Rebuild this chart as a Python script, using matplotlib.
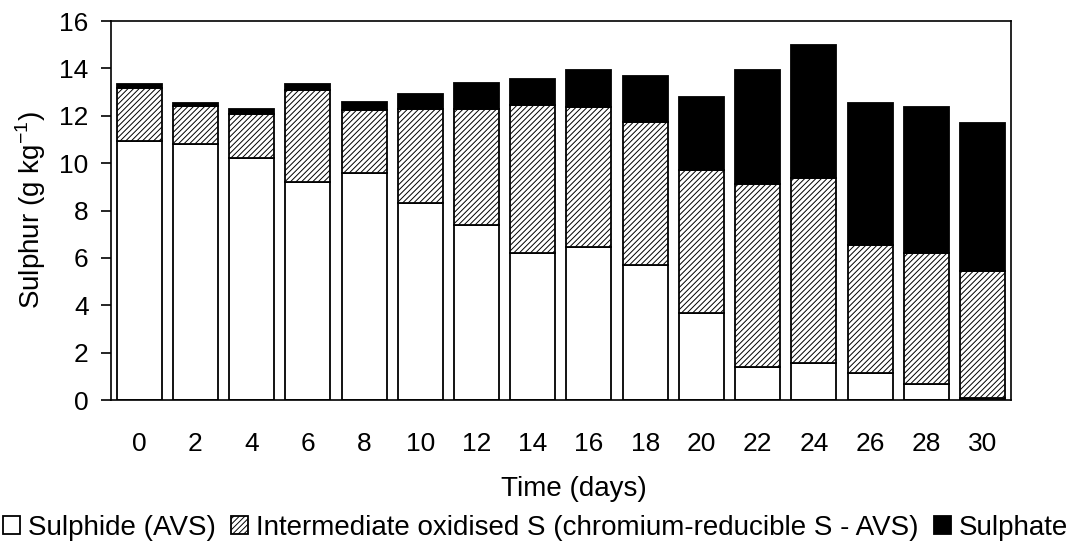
import numpy as np
import matplotlib.pyplot as plt

# Sulphur fractions over time (g kg-1)
days = [0, 2, 4, 6, 8, 10, 12, 14, 16, 18, 20, 22, 24, 26, 28, 30]
sulphide = [10.95, 10.81, 10.22, 9.22, 9.57, 8.30, 7.40, 6.19, 6.45, 5.70, 3.66, 1.39, 1.58, 1.15, 0.66, 0.10]
intermediate = [2.23, 1.60, 1.87, 3.85, 2.66, 4.00, 4.90, 6.28, 5.91, 6.02, 6.06, 7.71, 7.78, 5.41, 5.55, 5.33]
sulphate = [0.14, 0.14, 0.19, 0.28, 0.35, 0.60, 1.08, 1.09, 1.57, 1.94, 3.07, 4.83, 5.63, 5.99, 6.15, 6.26]

labels = ["Sulphide (AVS)",
          "Intermediate oxidised S (chromium-reducible S - AVS)",
          "Sulphate"]

FS = 19


def main():
    plt.rcParams['font.family'] = ['Liberation Sans', 'DejaVu Sans']
    plt.rcParams['mathtext.fontset'] = 'custom'
    plt.rcParams['mathtext.rm'] = 'Liberation Sans'
    plt.rcParams['hatch.linewidth'] = 0.7

    fig = plt.figure(figsize=(10.71, 5.5), dpi=100)
    ax = fig.add_axes([0.1036, 0.2727, 0.8401, 0.6891])

    x = np.arange(len(days))
    low = np.array(sulphide)
    mid = np.array(intermediate)
    w = 0.8

    # stacked bars
    ax.bar(x, low, w, color='white', edgecolor='black', linewidth=1.3, label=labels[0])
    ax.bar(x, mid, w, bottom=low, color='white', edgecolor='black', linewidth=1.3,
           hatch='//////', label=labels[1])
    ax.bar(x, sulphate, w, bottom=low + mid, color='black', edgecolor='black',
           linewidth=1.3, label=labels[2])

    ax.set_xlim(-0.5, len(days) - 0.5)
    ax.set_ylim(0, 16)
    ax.set_yticks(range(0, 17, 2))
    ax.set_xticks(x)
    ax.set_xticklabels([str(d) for d in days])
    ax.tick_params(axis='y', direction='out', length=7, width=1.2, labelsize=FS, pad=9)
    ax.tick_params(axis='x', length=0, labelsize=FS, pad=23)
    for s in ax.spines.values():
        s.set_linewidth(1.2)

    ax.set_xlabel("Time (days)", fontsize=20)
    ax.xaxis.set_label_coords(0.514, -0.201)
    ax.set_ylabel("Sulphur (g kg$^{\\mathregular{-1}}$)", fontsize=20, labelpad=8)

    fig.legend(loc='center', bbox_to_anchor=(0.5, 0.04), ncol=3, frameon=False,
               fontsize=20, handlelength=0.6, handleheight=0.6, handletextpad=0.3,
               columnspacing=0.55, borderaxespad=0, borderpad=0)

    fig.savefig("out.png", dpi=100)


if __name__ == "__main__":
    main()
